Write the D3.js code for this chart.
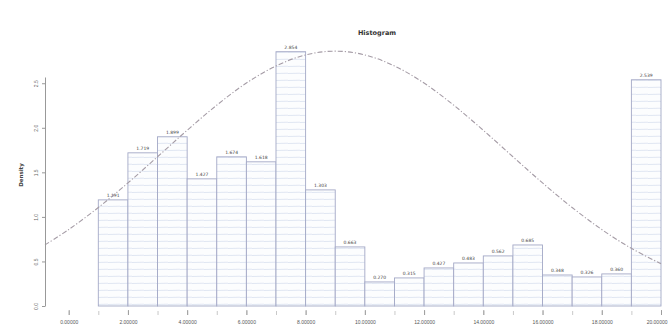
<!DOCTYPE html>
<html>
<head>
<meta charset="utf-8">
<script src="https://cdn.jsdelivr.net/npm/d3@7"></script>
<style>
  html, body { margin: 0; padding: 0; background: #fff; }
  svg { display: block; font-family: "DejaVu Sans", sans-serif; }
</style>
</head>
<body>
<svg id="chart" width="668" height="332"></svg>
<script>
// Bin edges (left/right) and bar heights
const binStart = [1, 2, 3, 4, 5, 6, 7, 8, 9, 10, 11, 12, 13, 14, 15, 16, 17, 18, 19];
const binEnd   = [2, 3, 4, 5, 6, 7, 8, 9, 10, 11, 12, 13, 14, 15, 16, 17, 18, 19, 20];
const barValues = [1.191, 1.719, 1.899, 1.427, 1.674, 1.618, 2.854, 1.303, 0.663, 0.270,
                   0.315, 0.427, 0.483, 0.562, 0.685, 0.348, 0.326, 0.360, 2.539];

// Fitted curve, sampled along the x range
const curveX = [-0.8, 0, 1, 2, 3, 4, 5, 6, 7, 8, 9, 10, 11, 12, 13, 14, 15, 16, 17, 18, 19, 20];
const curveY = [0.686, 0.858, 1.105, 1.381, 1.675, 1.972, 2.254, 2.502, 2.694, 2.818, 2.860,
                2.818, 2.694, 2.502, 2.254, 1.972, 1.675, 1.381, 1.105, 0.858, 0.647, 0.474];

// Axis ticks and labels
const xMajorTicks = [0, 2, 4, 6, 8, 10, 12, 14, 16, 18, 20];
const xTickLabels = ["0.00000", "2.00000", "4.00000", "6.00000", "8.00000", "10.00000",
                     "12.00000", "14.00000", "16.00000", "18.00000", "20.00000"];
const xMinorTicks = d3.range(0, 21);
const yTicks = [0, 0.5, 1.0, 1.5, 2.0, 2.5];
const yTickLabels = ["0.0", "0.5", "1.0", "1.5", "2.0", "2.5"];

const chartTitle = "Histogram";
const yTitle = "Density";

const svg = d3.select("#chart");

const x = d3.scaleLinear().domain([-0.8, 20]).range([45, 661]);
const y = d3.scaleLinear().domain([0, 2.57]).range([306, 77]);

// hatch pattern for bar fill
const defs = svg.append("defs");
const pat = defs.append("pattern")
  .attr("id", "hatch")
  .attr("patternUnits", "userSpaceOnUse")
  .attr("width", 12).attr("height", 7);
pat.append("rect").attr("width", 12).attr("height", 7).attr("fill", "#fcfdfe");
pat.append("line")
  .attr("x1", 0).attr("y1", 3.5).attr("x2", 12).attr("y2", 3.2)
  .attr("stroke", "#dde3f0").attr("stroke-width", 0.9);

// title
svg.append("text")
  .attr("x", 377).attr("y", 35)
  .attr("text-anchor", "middle")
  .attr("font-size", 6.5).attr("font-weight", "bold").attr("fill", "#333")
  .text(chartTitle);

// y axis title
svg.append("text")
  .attr("transform", "translate(23,175) rotate(-90)")
  .attr("text-anchor", "middle")
  .attr("font-size", 5.5).attr("font-weight", "bold").attr("fill", "#444")
  .text(yTitle);

// bars
const bars = binStart.map((s, i) => ({ s, e: binEnd[i], v: barValues[i] }));
const gBars = svg.append("g");
gBars.selectAll("rect")
  .data(bars)
  .join("rect")
  .attr("x", d => x(d.s))
  .attr("y", d => y(d.v))
  .attr("width", d => x(d.e) - x(d.s))
  .attr("height", d => y(0) - y(d.v))
  .attr("fill", "url(#hatch)")
  .attr("stroke", "#a3a8c6")
  .attr("stroke-width", 0.9);

// value labels
gBars.selectAll("text")
  .data(bars)
  .join("text")
  .attr("x", d => (x(d.s) + x(d.e)) / 2)
  .attr("y", d => y(d.v) - 2.5)
  .attr("text-anchor", "middle")
  .attr("font-size", 4.5).attr("fill", "#444")
  .text(d => d3.format(".3f")(d.v));

// fitted curve
const curvePts = curveX.map((cx, i) => [cx, curveY[i]]);
svg.append("path")
  .datum(curvePts)
  .attr("d", d3.line().x(d => x(d[0])).y(d => y(d[1])).curve(d3.curveCatmullRom))
  .attr("fill", "none")
  .attr("stroke", "#a59ca6")
  .attr("stroke-width", 1.1)
  .attr("stroke-dasharray", "5,2,1.2,2");

// y axis
const yAxis = d3.axisLeft(y)
  .tickValues(yTicks)
  .tickFormat((d, i) => yTickLabels[i])
  .tickSize(3)
  .tickSizeOuter(0);
const gy = svg.append("g").attr("transform", "translate(45,0)").call(yAxis);
gy.select(".domain").attr("stroke", "#999").attr("stroke-width", 1);
gy.selectAll(".tick line").attr("stroke", "#999");
gy.selectAll(".tick text")
  .attr("font-size", 5).attr("fill", "#666")
  .attr("text-anchor", "middle")
  .attr("transform", "translate(-2,0) rotate(-90)")
  .attr("x", 0).attr("y", -5).attr("dy", 0);

// x axis: minor ticks at every bin edge
const xMinor = d3.axisBottom(x).tickValues(xMinorTicks).tickFormat("").tickSize(4).tickSizeOuter(0);
const gxMinor = svg.append("g").attr("transform", "translate(0,311)").call(xMinor);
gxMinor.select(".domain").remove();
gxMinor.selectAll(".tick line").attr("stroke", "#bbb").attr("stroke-width", 0.8);

// x axis: labelled ticks
const xMajor = d3.axisBottom(x)
  .tickValues(xMajorTicks)
  .tickFormat((d, i) => xTickLabels[i])
  .tickSize(5)
  .tickSizeOuter(0);
const gx = svg.append("g").attr("transform", "translate(0,310)").call(xMajor);
gx.select(".domain").remove();
gx.selectAll(".tick line").attr("stroke", "#999").attr("stroke-width", 0.9);
gx.selectAll(".tick text")
  .attr("font-size", 5).attr("fill", "#555").attr("y", 10);
// keep the last label inside the frame
gx.selectAll(".tick text").filter((d, i, n) => i === n.length - 1)
  .attr("text-anchor", "end").attr("x", 6);
</script>
</body>
</html>
